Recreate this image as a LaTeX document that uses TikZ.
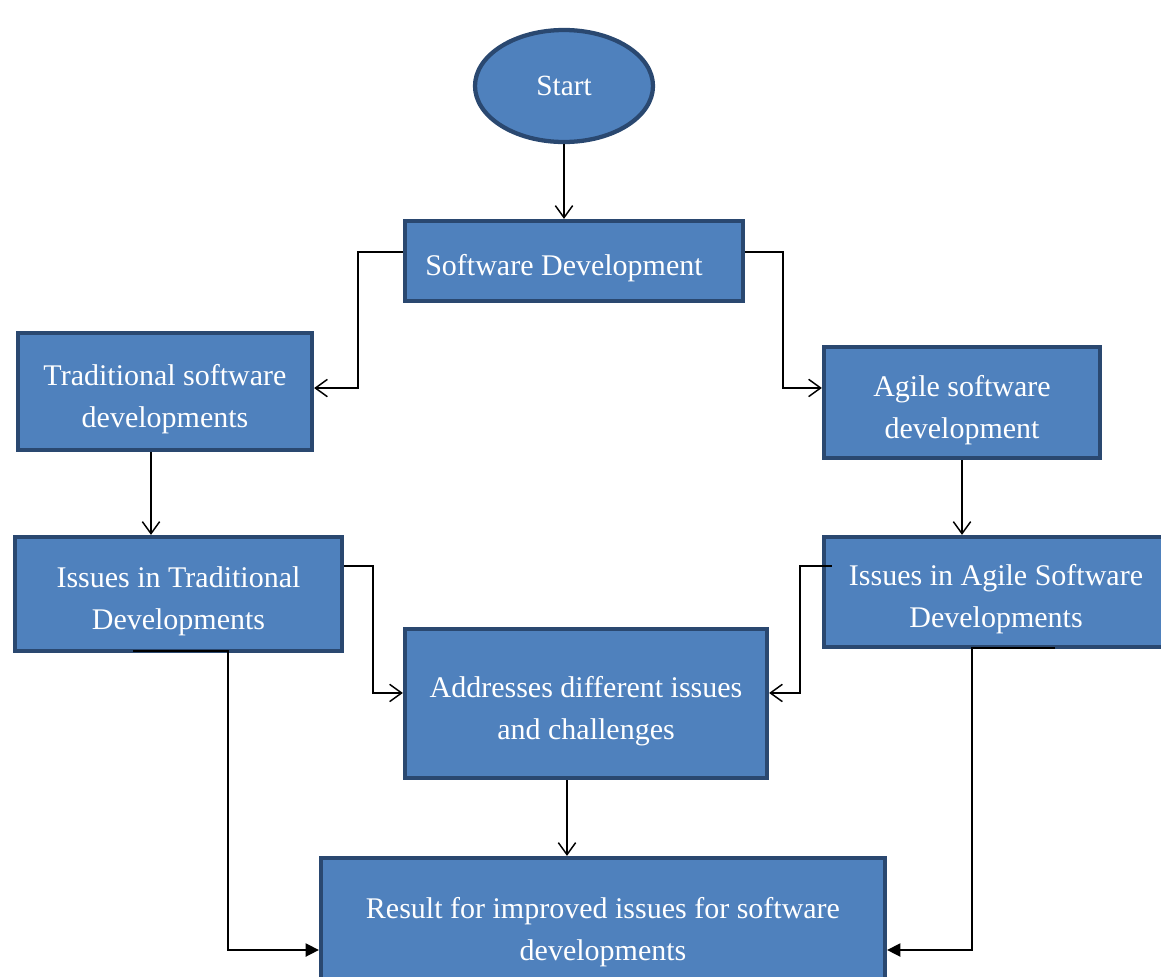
\documentclass[tikz,border=0pt]{standalone}
\usepackage{fontspec}
\setmainfont{Liberation Serif}
\usetikzlibrary{shapes.geometric,arrows.meta,calc}
\definecolor{boxfill}{HTML}{4F81BD}
\definecolor{boxline}{HTML}{2A4870}
\newcommand\dnstrut{\rule{0pt}{27pt}}
\begin{document}
\begin{tikzpicture}[x=0.75pt,y=-0.75pt,
  box/.style={rectangle,draw=boxline,fill=boxfill,line width=3.2pt,inner sep=0pt,
    text=white,align=center,font=\fontsize{22.5}{31.5}\selectfont},
  oval/.style={ellipse,draw=boxline,fill=boxfill,line width=3.2pt,inner sep=0pt,
    text=white,font=\fontsize{22}{30}\selectfont},
  arr/.style={line width=1.1pt,-{Straight Barb[length=9pt,width=13pt,line width=1.1pt]}},
  farr/.style={line width=1.1pt,-{Triangle[length=10pt,width=10pt]}},
  ln/.style={line width=1.1pt}]
\useasboundingbox (0,0) rectangle (1161,976);
\node[oval,minimum width=133.5pt,minimum height=84pt] (start) at (564,86) {Start};
\node[box,minimum width=253.5pt,minimum height=60pt] (sd) at (574,261) {\dnstrut Software Development\hspace{15pt}};
\node[box,minimum width=220.5pt,minimum height=87.75pt] (trad) at (165,391.5) {\dnstrut Traditional software\\developments};
\node[box,minimum width=207pt,minimum height=83.25pt] (agile) at (962,402.5) {\dnstrut Agile software\\development};
\node[box,minimum width=245.25pt,minimum height=85.5pt] (it) at (178.5,594) {\dnstrut Issues in Traditional\\Developments};
\node[box,minimum width=258pt,minimum height=82.5pt] (ia) at (996,592) {\dnstrut Issues in Agile Software\\Developments};
\node[box,minimum width=271.5pt,minimum height=111.75pt] (addr) at (586,703.5) {\dnstrut Addresses different issues\\and challenges};
\node[box,minimum width=423pt,minimum height=100.5pt] (res) at (603,925) {\dnstrut Result for improved issues for software\\developments};
% connectors
\draw[arr] (start.south) -- (start.south |- sd.north);
\draw[arr] ([yshift=6.75pt]sd.west) -- ++(-45,0) |- ([yshift=2.6pt]trad.east);
\draw[arr] ([yshift=6.75pt]sd.east) -- ++(38,0) |- ([yshift=10.9pt]agile.west);
\draw[arr] ([xshift=-10.5pt]trad.south) -- ([xshift=-10.5pt]trad.south |- it.north);
\draw[arr] (agile.south) -- (agile.south |- ia.north);
\draw[arr] ([yshift=21pt]it.east) -- ++(29,0) |- ([yshift=7.9pt]addr.west);
\draw[arr] ([xshift=7.5pt,yshift=19.5pt]ia.west) -- ++(-32,0) |- ([yshift=7.9pt]addr.east);
\draw[farr] ([xshift=-34pt,yshift=1.5pt]it.south) -- ([xshift=37pt,yshift=1.5pt]it.south) |- ([yshift=-18.75pt]res.west);
\draw[farr] ([xshift=44.25pt,yshift=0.75pt]ia.south) -- ([xshift=-18pt,yshift=0.75pt]ia.south) |- ([yshift=-18.75pt]res.east);
\draw[arr] ([xshift=-14.25pt]addr.south) -- ([xshift=-14.25pt]addr.south |- res.north);
\end{tikzpicture}
\end{document}
